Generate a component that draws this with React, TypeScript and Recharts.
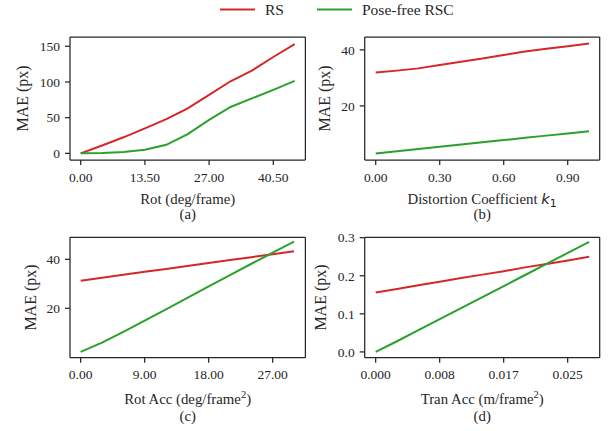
import React from 'react';
import { LineChart, Line, XAxis, YAxis, Legend, CartesianGrid } from 'recharts';

// ---------- data ----------
const rotX = [0, 4.5, 9, 13.5, 18, 22.5, 27, 31.5, 36, 40.5, 45];
const rotRS = [0, 11, 22.5, 35, 48, 63, 82, 101, 116, 135, 153];
const rotPF = [0, 0.5, 2, 5, 12, 27, 47, 65, 77, 89, 101.5];
const rotTicks = [0, 13.5, 27, 40.5];

const distX = [0, 0.1, 0.2, 0.3, 0.4, 0.5, 0.6, 0.7, 0.8, 0.9, 1.0];
const distRS = [31.9, 32.6, 33.4, 34.6, 35.8, 36.9, 38.2, 39.4, 40.4, 41.3, 42.3];
const distPF = [3.0, 3.8, 4.6, 5.4, 6.2, 7.0, 7.8, 8.6, 9.4, 10.2, 11.0];
const distTicks = [0, 0.3, 0.6, 0.9];

const accX = [0, 3, 6, 9, 12, 15, 18, 21, 24, 27, 30];
const accRS = [31.3, 32.5, 33.7, 34.9, 36.1, 37.3, 38.5, 39.7, 40.9, 42.1, 43.3];
const accPF = [2.2, 6.0, 10.4, 15.0, 19.6, 24.3, 29.0, 33.6, 38.2, 42.7, 47.2];
const accTicks = [0, 9, 18, 27];

const tranX = [0, 0.00278, 0.00556, 0.00834, 0.01112, 0.0139, 0.01668, 0.01946, 0.02224, 0.02502, 0.0278];
const tranRS = [0.156, 0.165, 0.175, 0.184, 0.194, 0.203, 0.212, 0.222, 0.231, 0.240, 0.250];
const tranPF = [0, 0.028, 0.057, 0.086, 0.115, 0.144, 0.173, 0.202, 0.231, 0.260, 0.289];
const tranTicks = [0, 0.025 / 3, 0.05 / 3, 0.025];

const seriesNames = ['RS', 'Pose-free RSC'];
const seriesColors = ['#d62728', '#2ca02c'];

const build = (xs: number[], rs: number[], pf: number[]) =>
  xs.map((x, i) => ({ x, rs: rs[i], pf: pf[i] }));

// ---------- style ----------
const FONT = '"Liberation Serif", serif';
const AX = '#262626';
const TICK_FS = 13.5;
const LABEL_FS = 14.8;
const YLABEL_FS = 16;
const YAXIS_W = 60;
const XAXIS_H = 40;
const W = 608;
const H = 431;

function XLab({ cx, base, capBase, children, caption }: any) {
  return (
    <g>
      <text x={cx} y={base} textAnchor="middle" fill={AX} fontFamily={FONT} fontSize={LABEL_FS}>
        {children}
      </text>
      <text x={cx} y={capBase} textAnchor="middle" fill={AX} fontFamily={FONT} fontSize={LABEL_FS}>
        {caption}
      </text>
    </g>
  );
}

function YLab({ cx, cy }: any) {
  return (
    <text
      x={cx}
      y={cy}
      transform={`rotate(-90, ${cx}, ${cy})`}
      textAnchor="middle"
      dominantBaseline="central"
      fill={AX}
      fontFamily={FONT}
      fontSize={YLABEL_FS}
    >
      MAE (px)
    </text>
  );
}

const LEGEND_X = [220, 317];

function LegendContent({ payload }: any) {
  const items = seriesNames
    .map((n) => (payload || []).find((p: any) => p.value === n))
    .filter(Boolean);
  return (
    <svg width={W} height={25} style={{ display: 'block' }}>
      {items.map((p: any, i: number) => {
        const x = LEGEND_X[i];
        return (
          <g key={p.value}>
            <line x1={x} x2={x + 35} y1={9.5} y2={9.5} stroke={p.color} strokeWidth={2} />
            <text x={x + 45} y={15} fill={AX} fontFamily={FONT} fontSize={15.5}>
              {p.value}
            </text>
          </g>
        );
      })}
    </svg>
  );
}

function Panel(props: any) {
  const { data, plot, xDomain, xTicks, xFmt, yDomain, yTicks, yFmt, xLabel, caption, yLabelX, labBase, capBase, legend } = props;
  const { l, r, t, b } = plot;
  const cx = (l + r) / 2;
  const cy = (t + b) / 2;
  const axisStyle = { stroke: AX, strokeWidth: 1.25 };
  return (
    <div style={{ position: 'absolute', left: 0, top: 0 }}>
      <LineChart
        width={W}
        height={H}
        data={data}
        margin={{ top: t, left: l - YAXIS_W, right: W - r, bottom: H - b - XAXIS_H }}
      >
        <CartesianGrid
          stroke={AX}
          strokeWidth={1.25}
          strokeOpacity={1}
          fill="none"
          horizontalPoints={[t]}
          verticalPoints={[r]}
        />
        <XAxis
          dataKey="x"
          type="number"
          domain={xDomain}
          allowDataOverflow
          ticks={xTicks}
          interval={0}
          tickFormatter={xFmt}
          height={XAXIS_H}
          tickSize={5}
          tickMargin={7}
          axisLine={axisStyle}
          tickLine={axisStyle}
          tick={{ fill: AX, fontSize: TICK_FS, fontFamily: FONT }}
          label={
            <XLab cx={cx} base={b + labBase} capBase={b + capBase} caption={caption}>
              {xLabel}
            </XLab>
          }
        />
        <YAxis
          type="number"
          domain={yDomain}
          allowDataOverflow
          ticks={yTicks}
          interval={0}
          tickFormatter={yFmt}
          width={YAXIS_W}
          tickSize={5}
          tickMargin={5}
          axisLine={axisStyle}
          tickLine={axisStyle}
          tick={{ fill: AX, fontSize: TICK_FS, fontFamily: FONT }}
          label={<YLab cx={yLabelX} cy={cy} />}
        />
        <Line type="linear" dataKey="rs" name={seriesNames[0]} stroke={seriesColors[0]} strokeWidth={2} dot={false} isAnimationActive={false} />
        <Line type="linear" dataKey="pf" name={seriesNames[1]} stroke={seriesColors[1]} strokeWidth={2} dot={false} isAnimationActive={false} />
        {legend && (
          <Legend
            layout="horizontal"
            verticalAlign="middle"
            align="center"
            content={<LegendContent />}
            wrapperStyle={{ position: 'absolute', top: 0, left: 0, width: W, height: 25 }}
          />
        )}
      </LineChart>
    </div>
  );
}

const f2 = (v: number) => v.toFixed(2);
const f3 = (v: number) => v.toFixed(3);
const f1 = (v: number) => v.toFixed(1);
const f0 = (v: number) => String(Math.round(v));

export default function App() {
  return (
    <div style={{ position: 'absolute', left: 0, top: 0, width: W, height: H, background: '#fff', overflow: 'hidden' }}>
      <Panel
        data={build(rotX, rotRS, rotPF)}
        plot={{ l: 70, r: 305.4, t: 37, b: 160 }}
        xDomain={[-2.25, 47.25]}
        xTicks={rotTicks}
        xFmt={f2}
        yDomain={[-9.3, 163]}
        yTicks={[0, 50, 100, 150]}
        yFmt={f0}
        xLabel="Rot (deg/frame)"
        caption="(a)"
        yLabelX={22}
        labBase={43.5}
        capBase={58.5}
        legend
      />
      <Panel
        data={build(distX, distRS, distPF)}
        plot={{ l: 364.7, r: 599.7, t: 37, b: 160 }}
        xDomain={[-0.0516, 1.05]}
        xTicks={distTicks}
        xFmt={f2}
        yDomain={[0.7, 44.6]}
        yTicks={[20, 40]}
        yFmt={f0}
        xLabel={
          <>
            <tspan>Distortion Coefficient </tspan>
            <tspan fontFamily='"DejaVu Sans", sans-serif' fontStyle="italic">k</tspan>
            <tspan fontFamily='"DejaVu Sans", sans-serif' fontSize={11} dy={3}>1</tspan>
          </>
        }
        caption="(b)"
        yLabelX={324}
        labBase={43.5}
        capBase={58.5}
      />
      <Panel
        data={build(accX, accRS, accPF)}
        plot={{ l: 70, r: 305.4, t: 237.3, b: 357.7 }}
        xDomain={[-1.5, 31.6]}
        xTicks={accTicks}
        xFmt={f2}
        yDomain={[-0.16, 49]}
        yTicks={[20, 40]}
        yFmt={f0}
        xLabel={
          <>
            <tspan>Rot Acc (deg/frame</tspan>
            <tspan fontSize={10.5} dy={-6}>2</tspan>
            <tspan dy={6}>)</tspan>
          </>
        }
        caption="(c)"
        yLabelX={30}
        labBase={46.5}
        capBase={63.5}
      />
      <Panel
        data={build(tranX, tranRS, tranPF)}
        plot={{ l: 364.7, r: 599.7, t: 237.3, b: 357.7 }}
        xDomain={[-0.00143, 0.02917]}
        xTicks={tranTicks}
        xFmt={f3}
        yDomain={[-0.0152, 0.301]}
        yTicks={[0, 0.1, 0.2, 0.3]}
        yFmt={f1}
        xLabel={
          <>
            <tspan>Tran Acc (m/frame</tspan>
            <tspan fontSize={10.5} dy={-6}>2</tspan>
            <tspan dy={6}>)</tspan>
          </>
        }
        caption="(d)"
        yLabelX={320.7}
        labBase={46.5}
        capBase={63.5}
      />
    </div>
  );
}
